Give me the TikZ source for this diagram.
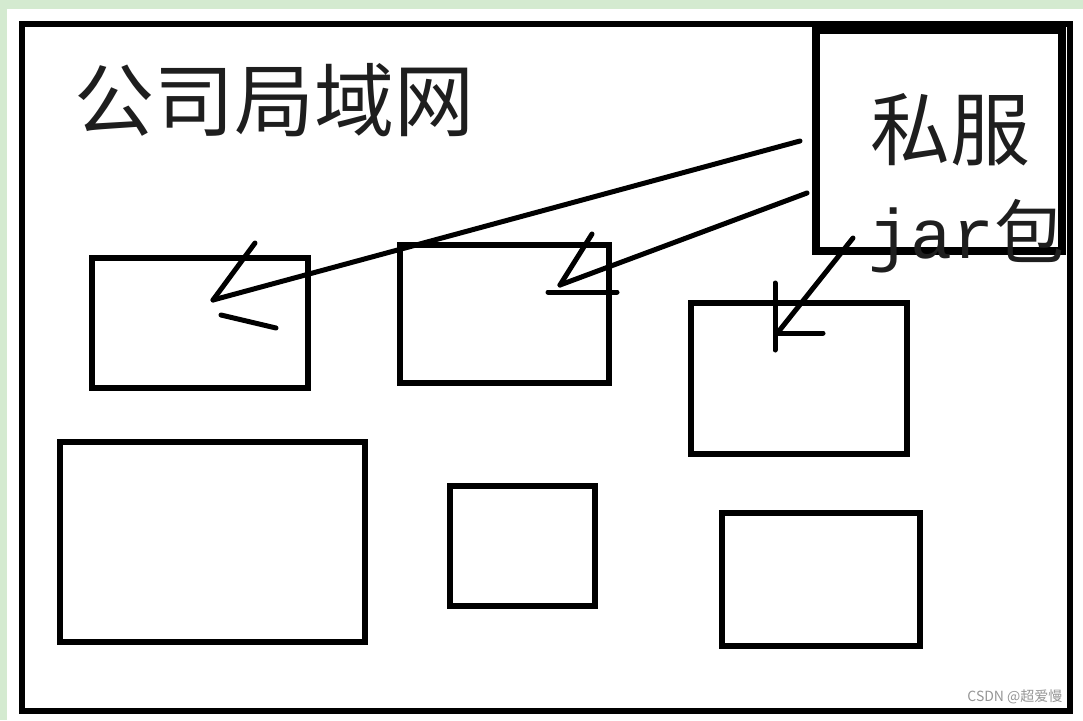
\documentclass[tikz,border=0pt]{standalone}
\usepackage{fontspec}
\setmainfont{Liberation Serif}
\newfontfamily\cjk{Noto Sans CJK SC}
\newfontfamily\jarfont{Liberation Mono}
\definecolor{bggreen}{RGB}{212,234,208}
\definecolor{markgray}{RGB}{150,150,150}
\definecolor{ink}{RGB}{30,30,30}
\begin{document}
\begin{tikzpicture}[x=1pt, y=-1pt, line cap=round,
  box/.style={draw, rectangle, line width=6.5pt, inner sep=0pt},
  pen/.style={line width=5pt},
  big/.style={font=\cjk\fontsize{80}{82}\selectfont, text=ink, inner sep=0pt}]
  % page with green margin
  \fill[bggreen] (0,0) rectangle (1083,720);
  \fill[white] (7,9) rectangle (1083,720);
  \useasboundingbox (0,0) rectangle (1083,720);

  % company network frame
  \node[box, line width=6pt, minimum width=1048, minimum height=687] (lan) at (546,367.5) {};
  \node[big, anchor=west] (title) at (74,100) {公司局域网};

  % private server
  \node[box, line width=8pt, minimum width=246, minimum height=221] (server) at (939,140.5) {};
  \node[big] (name) at (950,130) {私服};
  \node[inner sep=0pt, text=ink, anchor=west] (jar) at (868,236)
    {\jarfont\fontsize{70}{72}\selectfont jar\cjk 包};

  % machines
  \node[box, minimum width=216, minimum height=130] (pcA) at (200,323) {};
  \node[box, minimum width=209, minimum height=138] (pcB) at (504.5,314) {};
  \node[box, minimum width=216, minimum height=151] (pcC) at (799,378.5) {};
  \node[box, minimum width=305, minimum height=200] (pcD) at (212.5,542) {};
  \node[box, minimum width=145, minimum height=120] (pcE) at (522.5,546) {};
  \node[box, minimum width=198, minimum height=133] (pcF) at (821,579.5) {};

  % hand drawn arrows
  \coordinate (sA) at (800,141);
  \coordinate (tA) at (213,300);
  \coordinate (sB) at (807,193);
  \coordinate (tB) at (560,285);
  \coordinate (sC) at (853,238);
  \coordinate (tC) at (779,331);
  \draw[pen] (sA) -- (tA);
  \draw[pen] (tA) -- (255,243);
  \draw[pen] (221,315) -- (276,328);
  \draw[pen] (sB) -- (tB);
  \draw[pen] (tB) -- (592,234);
  \draw[pen] (548,292) -- (617,292);
  \draw[pen] (sC) -- (tC);
  \draw[pen] (775,283) -- (775,350);
  \draw[pen] (776,333) -- (823,333);

  \node[font=\cjk\fontsize{14}{16}\selectfont, text=markgray, anchor=east] (mark) at (1066,697) {CSDN @超爱慢};
\end{tikzpicture}
\end{document}
